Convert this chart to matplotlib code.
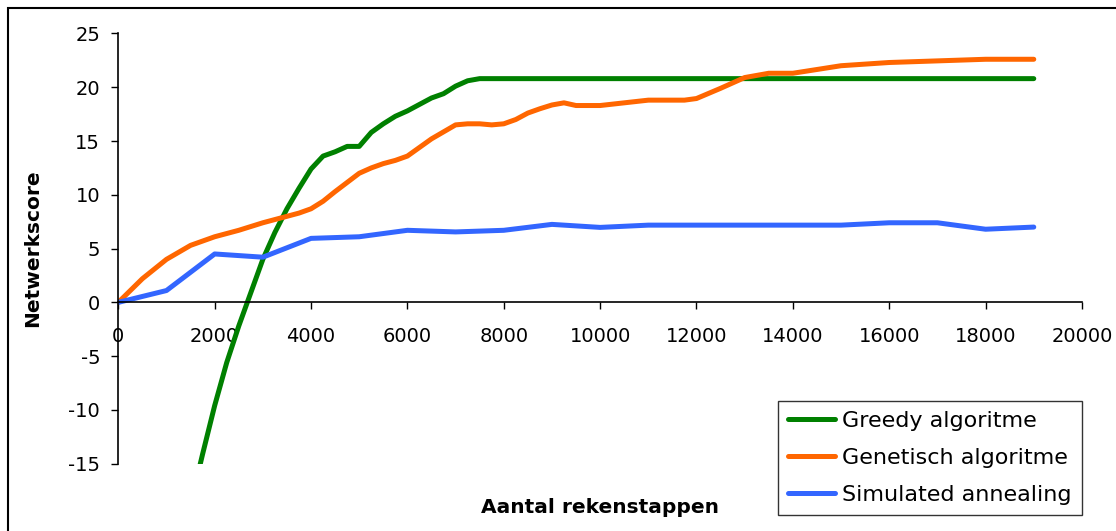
import matplotlib
matplotlib.use("Agg")
import matplotlib.pyplot as plt
from matplotlib.patches import Rectangle

# Greedy algoritme
greedy_x = [1500, 1750, 2000, 2250, 2500, 2750, 3000, 3250, 3500, 3750, 4000,
            4250, 4500, 4750, 5000, 5250, 5500, 5750, 6000, 6250, 6500, 6750,
            7000, 7250, 7500, 8000, 9000, 10000, 11000, 12000, 13000, 14000,
            15000, 16000, 17000, 18000, 19000]
greedy_y = [-18.8, -14.1, -9.6, -5.6, -2.2, 0.9, 4.0, 6.5, 8.7, 10.6, 12.4,
            13.6, 14.0, 14.5, 14.5, 15.8, 16.6, 17.3, 17.8, 18.4, 19.0, 19.4,
            20.1, 20.6, 20.8, 20.8, 20.8, 20.8, 20.8, 20.8, 20.8, 20.8,
            20.8, 20.8, 20.8, 20.8, 20.8]

# Genetisch algoritme
gen_x = [0, 500, 1000, 1500, 2000, 2500, 3000, 3500, 3750, 4000, 4250, 4500,
         5000, 5250, 5500, 5750, 6000, 6500, 7000, 7250, 7500, 7750, 8000,
         8250, 8500, 8750, 9000, 9250, 9500, 10000, 10500, 11000, 11750,
         12000, 12500, 13000, 13500, 14000, 15000, 16000, 17000, 18000, 19000]
gen_y = [0, 2.2, 4.0, 5.3, 6.1, 6.7, 7.4, 8.0, 8.3, 8.7, 9.4, 10.3,
         12.0, 12.5, 12.9, 13.2, 13.6, 15.2, 16.5, 16.6, 16.6, 16.5, 16.6,
         17.0, 17.6, 18.0, 18.35, 18.55, 18.3, 18.3, 18.55, 18.8, 18.8,
         18.95, 19.9, 20.9, 21.3, 21.3, 22.0, 22.3, 22.45, 22.6, 22.6]

# Simulated annealing
sa_x = [0, 1000, 2000, 3000, 4000, 5000, 6000, 7000, 8000, 9000, 10000,
        11000, 12000, 13000, 14000, 15000, 16000, 17000, 18000, 19000]
sa_y = [0, 1.1, 4.5, 4.2, 5.95, 6.1, 6.7, 6.55, 6.7, 7.25, 6.97,
        7.18, 7.18, 7.18, 7.18, 7.18, 7.4, 7.4, 6.8, 7.0]

xticks = list(range(0, 20001, 2000))
yticks = list(range(-15, 26, 5))

fig = plt.figure(figsize=(11.16, 5.31), dpi=100)
ax = fig.add_axes([0.106, 0.1267, 0.8635, 0.8103])

ax.plot(greedy_x, greedy_y, color="#008000", lw=3.6, label="Greedy algoritme",
        solid_capstyle="round", solid_joinstyle="round")
ax.plot(gen_x, gen_y, color="#FF6600", lw=3.6, label="Genetisch algoritme",
        solid_capstyle="round", solid_joinstyle="round")
ax.plot(sa_x, sa_y, color="#3366FF", lw=3.6, label="Simulated annealing",
        solid_capstyle="round", solid_joinstyle="round")

ax.set_xlim(0, 20000)
ax.set_ylim(-15, 25)
ax.set_xticks(xticks)
ax.set_yticks(yticks)
ax.set_xticklabels([str(v) for v in xticks])
ax.set_yticklabels([str(v) for v in yticks])

ax.spines["top"].set_visible(False)
ax.spines["right"].set_visible(False)
ax.spines["bottom"].set_position(("data", 0))
for s in ("left", "bottom"):
    ax.spines[s].set_linewidth(1.2)
ax.tick_params(axis="x", direction="out", length=5, width=1, pad=13, labelsize=14)
ax.tick_params(axis="y", direction="out", length=5, width=1, pad=8, labelsize=14)

ax.set_xlabel("Aantal rekenstappen", fontsize=14.5, fontweight="bold", va="center")
ax.xaxis.set_label_coords(0.5, -0.1006)
ax.set_ylabel("Netwerkscore", fontsize=14.5, fontweight="bold", va="center")
ax.yaxis.set_label_coords(-0.0885, 0.5)

leg = fig.legend(loc="upper left", bbox_to_anchor=(778 / 1116, 1 - 401 / 531),
                 borderaxespad=0, fontsize=16, frameon=True, fancybox=False,
                 handlelength=2.1, handletextpad=0.35, labelspacing=0.76,
                 borderpad=0.45)
leg.get_frame().set_edgecolor("black")
leg.get_frame().set_linewidth(1.0)

# outer chart border (runs off the right and bottom edges)
fig.patches.append(Rectangle((8 / 1116, -0.2), 1.2, 1.2 - 8 / 531,
                             transform=fig.transFigure, fill=False,
                             edgecolor="black", linewidth=1.5))

fig.savefig("out.png", dpi=100)
